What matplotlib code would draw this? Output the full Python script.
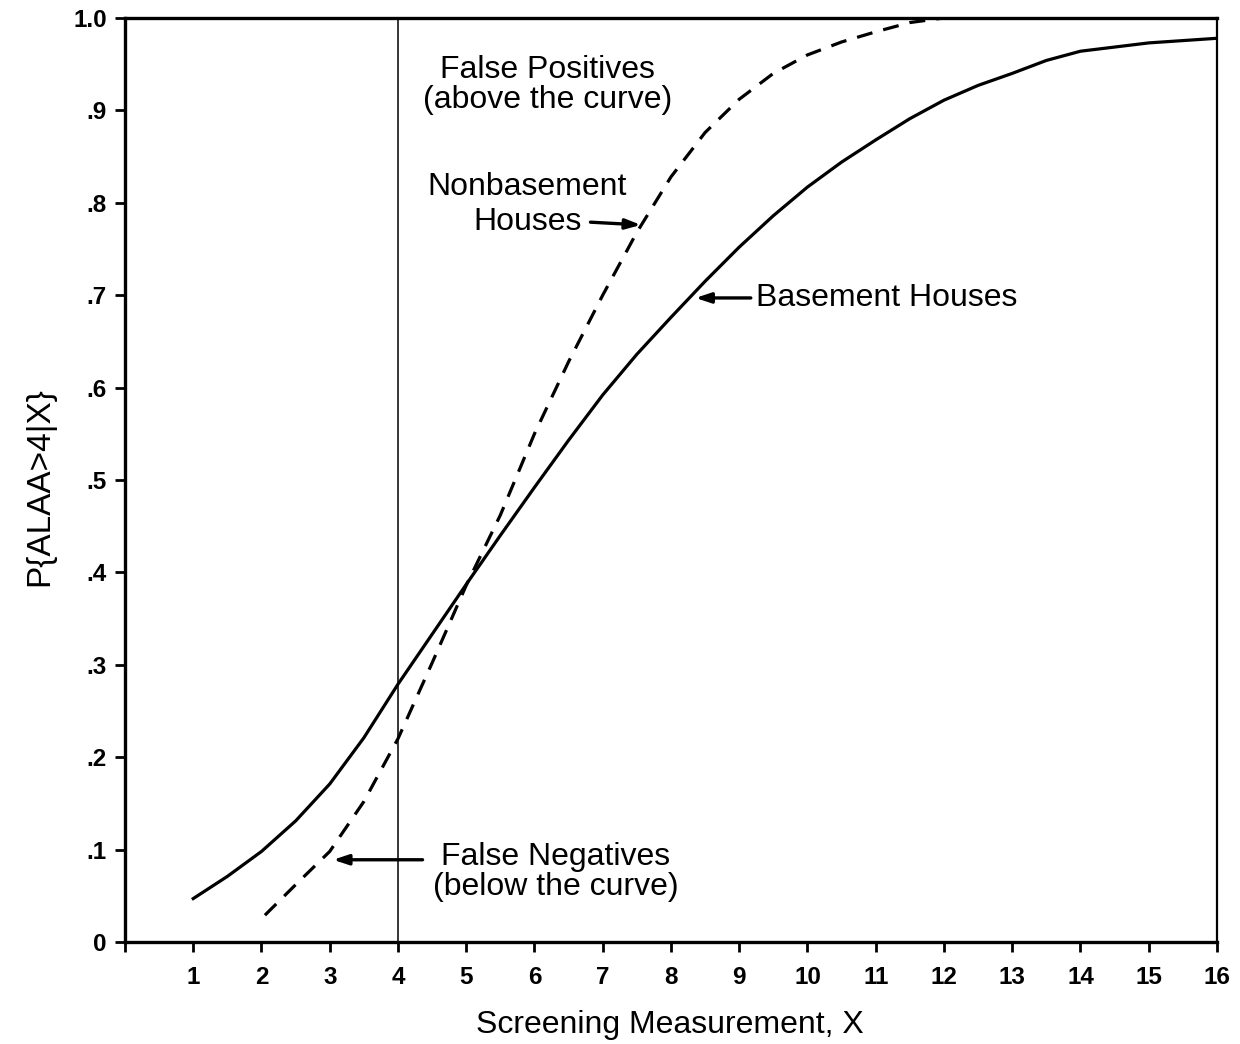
import matplotlib.pyplot as plt

# values
basement_x = [1, 1.5, 2, 2.5, 3, 3.5, 4, 4.5, 5, 5.5, 6, 6.5, 7, 7.5, 8, 8.5, 9, 9.5, 10, 10.5, 11, 11.5, 12,
              12.5, 13, 13.5, 14, 15, 16]
basement_y = [0.047, 0.071, 0.098, 0.131, 0.171, 0.221, 0.279, 0.333, 0.387, 0.44, 0.492, 0.543, 0.592, 0.636,
              0.676, 0.715, 0.752, 0.786, 0.817, 0.844, 0.868, 0.891, 0.911, 0.927, 0.940, 0.954, 0.964,
              0.973, 0.978]
nonbase_x = [2.05, 2.5, 3, 3.5, 4, 4.5, 5, 5.5, 6, 6.5, 7, 7.5, 8, 8.5, 9, 9.5, 10, 10.5, 11, 11.5, 12]
nonbase_y = [0.029, 0.062, 0.098, 0.152, 0.22, 0.302, 0.386, 0.462, 0.55, 0.628, 0.70, 0.768, 0.828, 0.876,
             0.912, 0.94, 0.96, 0.974, 0.985, 0.995, 1.0]
x_ticks = list(range(0, 17))
x_tick_labels = [""] + [str(i) for i in range(1, 17)]
y_ticks = [0, 0.1, 0.2, 0.3, 0.4, 0.5, 0.6, 0.7, 0.8, 0.9, 1.0]
y_tick_labels = ["0", ".1", ".2", ".3", ".4", ".5", ".6", ".7", ".8", ".9", "1.0"]
cutoff = 4

plt.rcParams["font.family"] = ["Liberation Sans", "DejaVu Sans"]

fig = plt.figure(figsize=(12.4, 10.44), dpi=100)
ax = fig.add_axes([0.1008, 0.0977, 0.8806, 0.8851])

ax.plot(basement_x, basement_y, color="black", linewidth=2.3, solid_joinstyle="round")
ax.plot(nonbase_x, nonbase_y, color="black", linewidth=2.3, dashes=(5, 3.5))
ax.axvline(cutoff, color="black", linewidth=1.1)

ax.set_xlim(0, 16)
ax.set_ylim(0, 1.0)
ax.set_xticks(x_ticks)
ax.set_xticklabels(x_tick_labels, fontweight="bold")
ax.set_yticks(y_ticks)
ax.set_yticklabels(y_tick_labels, fontweight="bold")
ax.tick_params(axis="both", direction="out", length=7, width=2, labelsize=17.5)
ax.tick_params(axis="x", pad=10)
ax.tick_params(axis="y", pad=6)
for side in ["left", "bottom", "top"]:
    ax.spines[side].set_linewidth(2.4)
ax.spines["right"].set_linewidth(1.6)

arrow = dict(arrowstyle="-|>,head_length=0.9,head_width=0.3", color="black", linewidth=2.4, shrinkA=0, shrinkB=0)
txt = dict(fontsize=23, color="black")

ax.text(6.19, 0.927, "False Positives\n(above the curve)", ha="center", va="center", linespacing=1.0, **txt)
ax.text(5.89, 0.817, "Nonbasement", ha="center", va="center", **txt)
ax.text(6.69, 0.779, "Houses", ha="right", va="center", **txt)
ax.annotate("", xy=(7.56, 0.776), xytext=(6.82, 0.779), arrowprops=arrow)
ax.text(9.25, 0.697, "Basement Houses", ha="left", va="center", **txt)
ax.annotate("", xy=(8.36, 0.697), xytext=(9.17, 0.697), arrowprops=arrow)
ax.text(6.31, 0.076, "False Negatives\n(below the curve)", ha="center", va="center", linespacing=1.0, **txt)
ax.annotate("", xy=(3.05, 0.089), xytext=(4.36, 0.089), arrowprops=arrow)

fig.text(40 / 1240, 1 - 487 / 1044, "P{ALAA>4|X}", rotation=90, ha="center", va="center", fontsize=24)
fig.text(670 / 1240, 1 - 1025 / 1044, "Screening Measurement, X", ha="center", va="center", fontsize=23)

fig.savefig("out.png", dpi=100)
